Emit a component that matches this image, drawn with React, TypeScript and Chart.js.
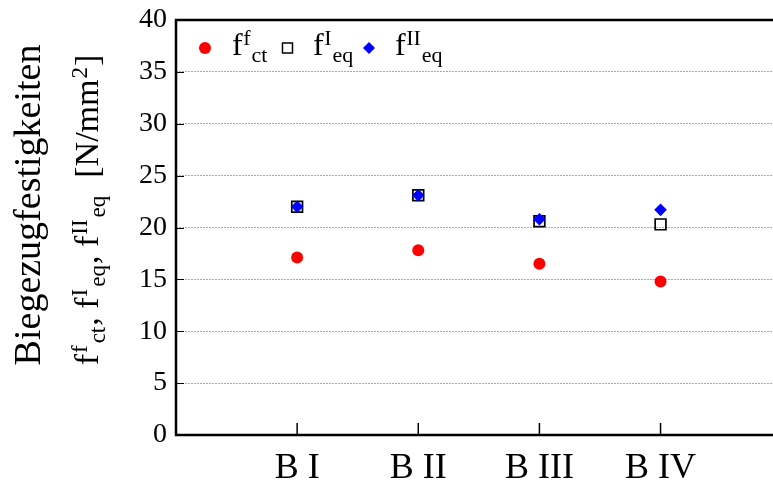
import React, { useEffect, useRef } from 'react';
import { Chart, registerables } from 'chart.js';

Chart.register(...registerables);

const categories = ['B I', 'B II', 'B III', 'B IV'];
const categoryPositions = [1, 2, 3, 4];
const fctValues = [17.1, 17.8, 16.5, 14.8];
const feqIValues = [22.0, 23.1, 20.6, 20.3];
const feqIIValues = [22.0, 23.1, 20.8, 21.7];
const yMin = 0;
const yMax = 40;
const yStep = 5;
const xMin = 0;
const xMax = 4.934;

type Seg = { t: string; k: 'n' | 'sup' | 'sub' };

const titleLine1 = 'Biegezugfestigkeiten';
const titleLine2: Seg[] = [
  { t: 'f', k: 'n' }, { t: 'f', k: 'sup' }, { t: 'ct', k: 'sub' }, { t: ', f', k: 'n' },
  { t: 'I', k: 'sup' }, { t: 'eq', k: 'sub' }, { t: ', f', k: 'n' }, { t: 'II', k: 'sup' },
  { t: 'eq', k: 'sub' }, { t: '  [N/mm', k: 'n' }, { t: '2', k: 'sup' }, { t: ']', k: 'n' },
];
const legendLabels: Seg[][] = [
  [{ t: 'f', k: 'n' }, { t: 'f', k: 'sup' }, { t: 'ct', k: 'sub' }],
  [{ t: 'f', k: 'n' }, { t: 'I', k: 'sup' }, { t: 'eq', k: 'sub' }],
  [{ t: 'f', k: 'n' }, { t: 'II', k: 'sup' }, { t: 'eq', k: 'sub' }],
];

const FONT = '"Liberation Serif", "Times New Roman", serif';

function drawRich(ctx: CanvasRenderingContext2D, segs: Seg[], x: number, y: number, main: number, small: number, align: 'left' | 'center', gap: number) {
  const widths = segs.map((s) => {
    ctx.font = `${s.k === 'n' ? main : small}px ${FONT}`;
    return ctx.measureText(s.t).width + (s.k === 'n' ? 0 : gap);
  });
  const total = widths.reduce((a, b) => a + b, 0);
  let cx = align === 'center' ? x - total / 2 : x;
  ctx.textAlign = 'left';
  ctx.textBaseline = 'alphabetic';
  segs.forEach((s, i) => {
    ctx.font = `${s.k === 'n' ? main : small}px ${FONT}`;
    const dy = s.k === 'sup' ? -0.32 * main : s.k === 'sub' ? 0.22 * main : 0;
    ctx.fillText(s.t, cx + (s.k === 'n' ? 0 : gap / 2), y + dy);
    cx += widths[i];
  });
}

const decorPlugin = {
  id: 'decor',
  beforeDatasetsDraw(chart: any) {
    const ctx: CanvasRenderingContext2D = chart.ctx;
    const { left, right, top, bottom } = chart.chartArea;
    const xs = chart.scales.x;
    const ys = chart.scales.y;
    ctx.save();
    ctx.strokeStyle = '#000';
    ctx.lineWidth = 1;
    for (let v = yMin + yStep; v < yMax; v += yStep) {
      const py = Math.round(ys.getPixelForValue(v)) + 0.5;
      ctx.beginPath();
      ctx.moveTo(left, py);
      ctx.lineTo(left + 8, py);
      ctx.stroke();
    }
    ctx.lineWidth = 1.5;
    categoryPositions.forEach((p) => {
      const px = xs.getPixelForValue(p);
      ctx.beginPath();
      ctx.moveTo(px, bottom);
      ctx.lineTo(px, bottom - 12);
      ctx.stroke();
    });
    ctx.lineWidth = 2.5;
    ctx.beginPath();
    ctx.moveTo(right + 20, top);
    ctx.lineTo(left, top);
    ctx.lineTo(left, bottom);
    ctx.lineTo(right + 20, bottom);
    ctx.stroke();
    ctx.restore();
  },
  afterDraw(chart: any) {
    const ctx: CanvasRenderingContext2D = chart.ctx;
    const { left } = chart.chartArea;
    ctx.save();
    ctx.fillStyle = '#000';
    ctx.save();
    ctx.translate(40, 205);
    ctx.rotate(-Math.PI / 2);
    ctx.font = `38px ${FONT}`;
    ctx.textAlign = 'center';
    ctx.textBaseline = 'alphabetic';
    ctx.fillText(titleLine1, 0, 0);
    ctx.restore();
    ctx.save();
    ctx.translate(98, 210);
    ctx.rotate(-Math.PI / 2);
    drawRich(ctx, titleLine2, 0, 0, 34, 23, 'center', 2);
    ctx.restore();
    const ly = 48;
    const markerX = [left + 29, left + 111.5, left + 193];
    const textX = [left + 56, left + 137, left + 219];
    ctx.fillStyle = '#ff0000';
    ctx.beginPath();
    ctx.arc(markerX[0], ly, 6, 0, Math.PI * 2);
    ctx.fill();
    ctx.strokeStyle = '#000';
    ctx.lineWidth = 1.5;
    ctx.strokeRect(markerX[1] - 5, ly - 5, 10, 10);
    ctx.fillStyle = '#0000ff';
    ctx.beginPath();
    ctx.moveTo(markerX[2] - 6, ly);
    ctx.lineTo(markerX[2], ly - 6);
    ctx.lineTo(markerX[2] + 6, ly);
    ctx.lineTo(markerX[2], ly + 6);
    ctx.closePath();
    ctx.fill();
    ctx.fillStyle = '#000';
    legendLabels.forEach((segs, i) => drawRich(ctx, segs, textX[i], 55, 32, 22, 'left', 1));
    ctx.restore();
  },
};

export default function App() {
  const ref = useRef<HTMLCanvasElement | null>(null);
  useEffect(() => {
    if (!ref.current) return;
    const mk = (vals: number[]) => vals.map((v, i) => ({ x: categoryPositions[i], y: v }));
    const chart = new Chart(ref.current, {
      type: 'scatter',
      data: {
        datasets: [
          {
            label: 'fct',
            data: mk(fctValues),
            pointStyle: 'circle',
            pointRadius: 6,
            backgroundColor: '#ff0000',
            borderColor: '#ff0000',
            borderWidth: 0,
            order: 2,
          },
          {
            label: 'feqI',
            data: mk(feqIValues),
            pointStyle: 'rect',
            pointRadius: 7.6,
            backgroundColor: 'rgba(255,255,255,0)',
            borderColor: '#000000',
            borderWidth: 1.7,
            order: 1,
          },
          {
            label: 'feqII',
            data: mk(feqIIValues),
            pointStyle: 'rectRot',
            pointRadius: 6.3,
            backgroundColor: '#0000ff',
            borderColor: '#0000ff',
            borderWidth: 0,
            order: 0,
          },
        ],
      },
      options: {
        animation: false,
        responsive: false,
        maintainAspectRatio: false,
        layout: { padding: { top: 20, left: 0, right: 0, bottom: 0 } },
        plugins: { legend: { display: false }, tooltip: { enabled: false } },
        scales: {
          x: {
            type: 'linear',
            min: xMin,
            max: xMax,
            afterBuildTicks: (scale: any) => {
              scale.ticks = categoryPositions.map((v) => ({ value: v }));
            },
            afterFit: (scale: any) => {
              scale.height = 50;
              scale.paddingLeft = 0;
              scale.paddingRight = 0;
            },
            grid: { display: false, drawTicks: false },
            border: { display: false },
            ticks: {
              autoSkip: false,
              maxRotation: 0,
              padding: 12,
              color: '#000',
              font: { family: FONT, size: 36 },
              callback: (v: any) => {
                const i = categoryPositions.indexOf(Number(v));
                return i >= 0 ? categories[i] : '';
              },
            },
          },
          y: {
            type: 'linear',
            min: yMin,
            max: yMax,
            afterFit: (scale: any) => {
              scale.width = 176;
              scale.paddingTop = 0;
              scale.paddingBottom = 0;
            },
            grid: { color: '#a8a8a8', lineWidth: 1, drawTicks: false },
            border: { display: false, dash: [2, 1] },
            ticks: {
              stepSize: yStep,
              padding: 9,
              color: '#000',
              font: { family: FONT, size: 28 },
            },
          },
        },
      },
      plugins: [decorPlugin],
    });
    return () => chart.destroy();
  }, []);
  return (
    <div style={{ position: 'fixed', left: 0, top: 0, width: 773, height: 485, overflow: 'hidden', background: '#fff' }}>
      <canvas ref={ref} width={783} height={485} style={{ display: 'block' }} />
    </div>
  );
}
